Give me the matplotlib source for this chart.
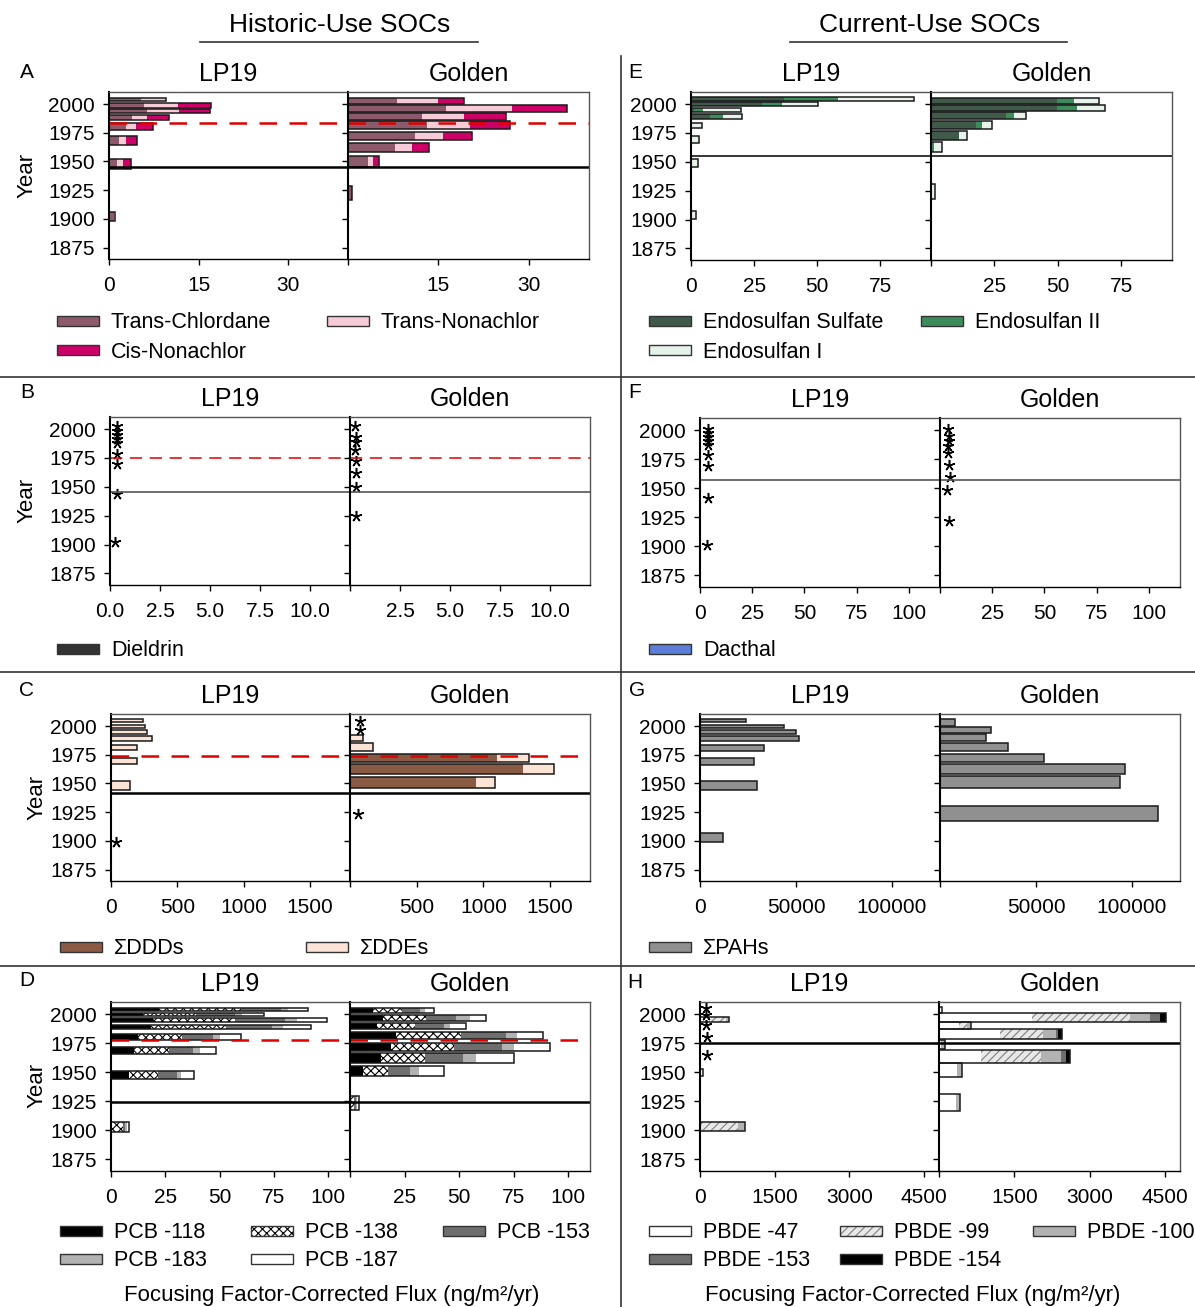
import numpy as np
import matplotlib
matplotlib.use("Agg")
import matplotlib.pyplot as plt
from matplotlib.patches import Rectangle

plt.rcParams['font.family'] = ['Liberation Sans', 'DejaVu Sans']
plt.rcParams['hatch.linewidth'] = 0.8

# ---------------- data (years are the dated slice top / bottom) ----------------
year_ticks = [2000, 1975, 1950, 1925, 1900, 1875]

# A  chlordanes
a_lp_top = [2005.2, 2000.9, 1995.7, 1990.5, 1983.5, 1972.0, 1951.7, 1906.0]
a_lp_bot = [2002.6, 1996.8, 1992.3, 1985.8, 1977.7, 1964.7, 1943.6, 1898.4]
a_lp_tc = [5.4, 5.8, 6.3, 3.9, 2.8, 1.6, 1.4, 0.8]
a_lp_tn = [4.1, 5.8, 5.4, 2.5, 1.8, 1.2, 0.9, 0.2]
a_lp_cis = [0.0, 5.5, 5.2, 3.6, 2.8, 1.9, 1.4, 0.0]
a_go_top = [2005.2, 1998.8, 1992.2, 1985.0, 1975.4, 1966.1, 1955.1, 1928.6]
a_go_bot = [2000.3, 1993.0, 1986.4, 1978.3, 1968.5, 1958.3, 1945.3, 1916.5]
a_go_tc = [8.1, 16.2, 12.2, 13.1, 11.2, 7.8, 3.4, 0.5]
a_go_tn = [6.8, 11.0, 7.1, 7.1, 4.6, 2.8, 0.8, 0.0]
a_go_cis = [4.3, 9.1, 6.9, 6.7, 4.8, 2.8, 1.0, 0.2]
a_dash, a_solid = 1983.5, 1945.3

# E  endosulfans
e_lp_top = [2006.0, 2001.5, 1996.3, 1991.4, 1984.0, 1972.8, 1952.8, 1907.6]
e_lp_bot = [2003.1, 1998.0, 1993.4, 1987.1, 1979.1, 1966.3, 1945.3, 1900.4]
e_lp_es = [37.0, 28.2, 1.0, 7.7, 0, 0, 0, 0]
e_lp_e2 = [21.2, 7.9, 3.6, 4.9, 0, 0, 0, 0]
e_lp_e1 = [30.0, 14.1, 15.2, 7.6, 4.2, 3.3, 2.9, 2.0]
e_go_top = [2005.7, 1999.1, 1992.8, 1985.4, 1977.1, 1967.1, 1931.0]
e_go_bot = [2000.0, 1994.0, 1986.8, 1978.3, 1968.8, 1958.5, 1917.6]
e_go_es = [49.8, 49.8, 29.6, 17.8, 10.9, 0, 0]
e_go_e2 = [6.6, 7.8, 3.3, 2.4, 0, 1.2, 0]
e_go_e1 = [9.9, 10.9, 4.6, 3.8, 3.2, 3.0, 1.6]
e_solid = 1954.8

# B  dieldrin (not detected -> *)
b_lp_star_yr = [2002.3, 1998.5, 1995.1, 1991.4, 1987.6, 1978.4, 1969.7, 1943.7, 1901.9]
b_lp_star_x = [0.35, 0.35, 0.35, 0.35, 0.35, 0.35, 0.35, 0.35, 0.25]
b_go_star_yr = [2002.9, 1992.8, 1989.0, 1981.8, 1972.0, 1961.9, 1949.5, 1924.4]
b_go_star_x = [0.25, 0.3, 0.3, 0.25, 0.3, 0.3, 0.3, 0.3]
b_dash, b_solid = 1974.6, 1945.7

# F  dacthal (not detected -> *)
f_lp_star_yr = [2001.4, 1997.7, 1994.2, 1990.7, 1987.0, 1978.4, 1969.0, 1941.9, 1900.8]
f_lp_star_x = [4, 4, 4, 4, 4, 4, 4, 4, 3.2]
f_go_star_yr = [2000.6, 1994.8, 1990.5, 1986.1, 1980.4, 1970.2, 1960.0, 1948.5, 1921.7]
f_go_star_x = [4, 4.5, 4.5, 4, 4, 4.5, 5, 3.5, 4.5]
f_solid = 1956.7

# C  DDTs
c_lp_top = [2005.8, 2001.2, 1996.3, 1991.0, 1983.2, 1972.5, 1951.9]
c_lp_bot = [2003.5, 1998.3, 1993.2, 1987.2, 1978.9, 1966.7, 1944.1]
c_lp_ddd = [0, 0, 0, 0, 0, 0, 0]
c_lp_dde = [238, 258, 271, 306, 193, 193, 145]
c_lp_star_yr = [1899.1]
c_lp_star_x = [40]
c_go_top = [1992.5, 1985.2, 1976.0, 1966.7, 1955.7]
c_go_bot = [1987.0, 1978.3, 1968.7, 1958.6, 1946.4]
c_go_ddd = [0, 0, 1100, 1300, 944]
c_go_dde = [100, 170, 245, 230, 140]
c_go_star_yr = [2004.1, 1996.3, 1923.8]
c_go_star_x = [75, 75, 60]
c_dash, c_solid = 1973.7, 1942.1

# G  PAHs
g_lp_top = [2005.8, 2001.2, 1996.3, 1991.3, 1983.8, 1972.5, 1951.9, 1906.4]
g_lp_bot = [2003.5, 1998.3, 1993.4, 1987.0, 1978.3, 1966.4, 1944.3, 1899.1]
g_lp_pah = [23800, 44000, 50100, 51800, 33400, 28300, 29900, 12200]
g_go_top = [2005.8, 1999.1, 1992.8, 1985.6, 1976.0, 1966.7, 1956.3, 1930.2]
g_go_bot = [2000.0, 1994.3, 1987.0, 1978.3, 1968.7, 1958.6, 1946.4, 1917.4]
g_go_pah = [7950, 26600, 23800, 35500, 54300, 96500, 93800, 113600]

# D  PCBs
d_lp_top = [2005.2, 2000.6, 1996.5, 1990.7, 1983.3, 1972.0, 1951.5, 1907.1]
d_lp_bot = [2002.9, 1998.3, 1993.1, 1987.0, 1977.7, 1966.0, 1944.0, 1899.0]
d_lp_118 = [22.0, 14.6, 19.5, 18.5, 12.6, 10.8, 8.5, 0.0]
d_lp_138 = [38.0, 24.6, 37.5, 34.3, 20.2, 16.1, 13.0, 5.4]
d_lp_153 = [18.2, 17.8, 23.0, 21.3, 14.1, 10.8, 8.8, 1.0]
d_lp_183 = [3.3, 3.5, 5.4, 4.9, 3.4, 3.1, 2.0, 1.0]
d_lp_187 = [9.0, 10.0, 14.1, 13.0, 9.7, 7.4, 5.7, 1.1]
d_go_top = [2005.2, 1999.1, 1992.2, 1985.0, 1975.5, 1966.2, 1955.8, 1929.3]
d_go_bot = [2000.6, 1994.2, 1987.0, 1979.0, 1968.2, 1958.2, 1946.6, 1917.7]
d_go_118 = [10.7, 14.9, 12.2, 21.0, 19.0, 14.0, 5.8, 0.0]
d_go_138 = [13.2, 20.1, 17.5, 29.7, 28.6, 20.2, 11.7, 1.8]
d_go_153 = [8.4, 13.4, 13.2, 20.8, 22.0, 17.5, 10.2, 0.8]
d_go_183 = [1.9, 6.4, 2.8, 4.9, 5.7, 6.1, 3.8, 0.5]
d_go_187 = [4.3, 7.6, 7.6, 11.9, 16.3, 17.2, 11.4, 1.0]
d_dash, d_solid = 1977.7, 1924.4

# H  PBDEs
h_lp_top = [1997.7, 1952.4, 1907.1]
h_lp_bot = [1993.7, 1946.6, 1899.6]
h_lp_47 = [220, 67, 0]
h_lp_99 = [300, 0, 773]
h_lp_100 = [70, 0, 134]
h_lp_153 = [0, 0, 0]
h_lp_154 = [0, 0, 0]
h_lp_star_yr = [2005.2, 1999.6, 1990.5, 1980.1, 1964.5]
h_lp_star_x = [130, 130, 130, 150, 150]
h_go_top = [2006.3, 2000.6, 1993.7, 1987.0, 1977.7, 1968.8, 1957.6, 1931.6]
h_go_bot = [2000.9, 1993.7, 1987.0, 1978.4, 1969.7, 1957.6, 1946.1, 1916.3]
h_go_47 = [67, 1848, 400, 1213, 40, 834, 360, 347]
h_go_99 = [0, 1965, 160, 867, 0, 1200, 0, 0]
h_go_100 = [0, 387, 87, 253, 80, 400, 107, 66]
h_go_153 = [0, 193, 0, 40, 0, 100, 0, 0]
h_go_154 = [0, 120, 0, 80, 0, 80, 0, 0]
h_solid = 1974.9

# ---------------- styles ----------------
st_tc = dict(color='#8C5A6A')
st_tn = dict(color='#F7CAD8')
st_cis = dict(color='#CC0066')
st_es = dict(color='#405A4A')
st_e2 = dict(color='#3D8C5C')
st_e1 = dict(color='#E6F2EA')
st_diel = dict(color='#333333')
st_dac = dict(color='#5B7FD8')
st_ddd = dict(color='#8B5A45')
st_dde = dict(color='#FBE3D5')
st_pah = dict(color='#909090')
st_118 = dict(color='#000000')
st_138 = dict(facecolor='white', edgecolor='black', hatch='xxxx', linewidth=0)
st_153 = dict(color='#6E6E6E')
st_183 = dict(color='#B2B2B2')
st_187 = dict(color='#FFFFFF')
st_b47 = dict(color='#FFFFFF')
st_b99 = dict(facecolor='#E8E8E8', edgecolor='#808080', hatch='////', linewidth=0)
st_b100 = dict(color='#B2B2B2')
st_b153 = dict(color='#6E6E6E')
st_b154 = dict(color='#000000')

W, H = 1195, 1307
fig = plt.figure(figsize=(W / 100, H / 100), dpi=100)


def add_ax(x0, y0, x1, y1):
    return fig.add_axes([x0 / W, 1 - y1 / H, (x1 - x0) / W, (y1 - y0) / H])


def setup(ax, xlim, xticks, xlabels, first, title):
    ax.set_xlim(*xlim)
    ax.set_ylim(1865, 2010.5)
    ax.set_yticks(year_ticks)
    ax.set_yticklabels([str(y) for y in year_ticks] if first else [])
    ax.set_xticks(xticks)
    ax.set_xticklabels(xlabels)
    ax.tick_params(direction='out', length=4, width=1, labelsize=15, pad=8)
    ax.tick_params(axis='y', pad=6)
    for s in ax.spines.values():
        s.set_color('#555555')
        s.set_linewidth(1)
    ax.spines['left'].set_color('black')
    ax.spines['left'].set_linewidth(1.5)
    ax.spines['bottom'].set_color('black')
    ax.set_title(title, fontsize=18, pad=8)


def stacked(ax, tops, bots, series, styles):
    tops = np.array(tops)
    bots = np.array(bots)
    mid = (tops + bots) / 2
    hgt = tops - bots
    left = np.zeros(len(tops))
    for vals, st in zip(series, styles):
        vals = np.array(vals, dtype=float)
        ax.barh(mid, vals, height=hgt, left=left, **st)
        left = left + vals
    ax.barh(mid, left, height=hgt, fill=False, edgecolor='#1a1a1a', linewidth=1.1)


def stars(ax, xs, yrs):
    ax.plot(xs, yrs, linestyle='none', marker=(5, 2, 0), markersize=8,
            markeredgewidth=1.1, color='black')


def hlines(ax, dash=None, solid=None, lw=1.8):
    if dash is not None:
        ax.axhline(dash, color='#E00000', linewidth=lw, dashes=(7, 5))
    if solid is not None:
        ax.axhline(solid, color='black', linewidth=lw)


# ---- A ----
ax1 = add_ax(109, 92, 348, 259)
ax2 = add_ax(348, 92, 589, 259)
setup(ax1, (0, 40), [0, 15, 30], ['0', '15', '30'], True, 'LP19')
setup(ax2, (0, 40), [0, 15, 30], ['', '15', '30'], False, 'Golden')
stacked(ax1, a_lp_top, a_lp_bot, [a_lp_tc, a_lp_tn, a_lp_cis], [st_tc, st_tn, st_cis])
stacked(ax2, a_go_top, a_go_bot, [a_go_tc, a_go_tn, a_go_cis], [st_tc, st_tn, st_cis])
for ax in (ax1, ax2):
    hlines(ax, a_dash, a_solid)

# ---- E ----
ax1 = add_ax(691, 92, 931, 260)
ax2 = add_ax(931, 92, 1172, 260)
setup(ax1, (0, 95), [0, 25, 50, 75], ['0', '25', '50', '75'], True, 'LP19')
setup(ax2, (0, 95), [0, 25, 50, 75], ['', '25', '50', '75'], False, 'Golden')
stacked(ax1, e_lp_top, e_lp_bot, [e_lp_es, e_lp_e2, e_lp_e1], [st_es, st_e2, st_e1])
stacked(ax2, e_go_top, e_go_bot, [e_go_es, e_go_e2, e_go_e1], [st_es, st_e2, st_e1])
for ax in (ax1, ax2):
    hlines(ax, None, e_solid, lw=1.1)

# ---- B ----
ax1 = add_ax(110, 417, 350, 585)
ax2 = add_ax(350, 417, 590, 585)
bt = [0, 2.5, 5.0, 7.5, 10.0]
setup(ax1, (0, 12), bt, ['0.0', '2.5', '5.0', '7.5', '10.0'], True, 'LP19')
setup(ax2, (0, 12), bt, ['', '2.5', '5.0', '7.5', '10.0'], False, 'Golden')
stars(ax1, b_lp_star_x, b_lp_star_yr)
stars(ax2, b_go_star_x, b_go_star_yr)
for ax in (ax1, ax2):
    ax.axhline(b_dash, color='#E00000', linewidth=1.1, dashes=(8, 5))
    ax.axhline(b_solid, color='#555555', linewidth=1.2)

# ---- F ----
ax1 = add_ax(700, 418, 940, 587)
ax2 = add_ax(940, 418, 1180, 587)
ft = [0, 25, 50, 75, 100]
setup(ax1, (0, 115), ft, ['0', '25', '50', '75', '100'], True, 'LP19')
setup(ax2, (0, 115), ft, ['', '25', '50', '75', '100'], False, 'Golden')
stars(ax1, f_lp_star_x, f_lp_star_yr)
stars(ax2, f_go_star_x, f_go_star_yr)
for ax in (ax1, ax2):
    ax.axhline(f_solid, color='#555555', linewidth=1.2)

# ---- C ----
ax1 = add_ax(111, 714, 350, 881)
ax2 = add_ax(350, 714, 590, 881)
ct = [0, 500, 1000, 1500]
setup(ax1, (0, 1800), ct, ['0', '500', '1000', '1500'], True, 'LP19')
setup(ax2, (0, 1800), ct, ['', '500', '1000', '1500'], False, 'Golden')
stacked(ax1, c_lp_top, c_lp_bot, [c_lp_ddd, c_lp_dde], [st_ddd, st_dde])
stacked(ax2, c_go_top, c_go_bot, [c_go_ddd, c_go_dde], [st_ddd, st_dde])
stars(ax1, c_lp_star_x, c_lp_star_yr)
stars(ax2, c_go_star_x, c_go_star_yr)
for ax in (ax1, ax2):
    hlines(ax, c_dash, c_solid)

# ---- G ----
ax1 = add_ax(700, 714, 940, 881)
ax2 = add_ax(940, 714, 1180, 881)
gt = [0, 50000, 100000]
setup(ax1, (0, 125000), gt, ['0', '50000', '100000'], True, 'LP19')
setup(ax2, (0, 125000), gt, ['', '50000', '100000'], False, 'Golden')
stacked(ax1, g_lp_top, g_lp_bot, [g_lp_pah], [st_pah])
stacked(ax2, g_go_top, g_go_bot, [g_go_pah], [st_pah])

# ---- D ----
ax1 = add_ax(111, 1002, 350, 1171)
ax2 = add_ax(350, 1002, 590, 1171)
dt = [0, 25, 50, 75, 100]
setup(ax1, (0, 110), dt, ['0', '25', '50', '75', '100'], True, 'LP19')
setup(ax2, (0, 110), dt, ['', '25', '50', '75', '100'], False, 'Golden')
pcb_st = [st_118, st_138, st_153, st_183, st_187]
stacked(ax1, d_lp_top, d_lp_bot, [d_lp_118, d_lp_138, d_lp_153, d_lp_183, d_lp_187], pcb_st)
stacked(ax2, d_go_top, d_go_bot, [d_go_118, d_go_138, d_go_153, d_go_183, d_go_187], pcb_st)
for ax in (ax1, ax2):
    hlines(ax, d_dash, d_solid)

# ---- H ----
ax1 = add_ax(700, 1002, 939, 1171)
ax2 = add_ax(939, 1002, 1180, 1171)
ht = [0, 1500, 3000, 4500]
setup(ax1, (0, 4800), ht, ['0', '1500', '3000', '4500'], True, 'LP19')
setup(ax2, (0, 4800), ht, ['', '1500', '3000', '4500'], False, 'Golden')
pbde_st = [st_b47, st_b99, st_b100, st_b153, st_b154]
stacked(ax1, h_lp_top, h_lp_bot, [h_lp_47, h_lp_99, h_lp_100, h_lp_153, h_lp_154], pbde_st)
stacked(ax2, h_go_top, h_go_bot, [h_go_47, h_go_99, h_go_100, h_go_153, h_go_154], pbde_st)
stars(ax1, h_lp_star_x, h_lp_star_yr)
for ax in (ax1, ax2):
    hlines(ax, None, h_solid)

# ---------------- overlay: headers, separators, legends ----------------
ov = fig.add_axes([0, 0, 1, 1], zorder=-1)
ov.set_xlim(0, W)
ov.set_ylim(H, 0)
ov.axis('off')

ov.text(340, 25, 'Historic-Use SOCs', fontsize=19, ha='center', va='center')
ov.plot([200, 478], [42, 42], color='#333333', lw=1.2)
ov.text(930, 25, 'Current-Use SOCs', fontsize=19, ha='center', va='center')
ov.plot([790, 1067], [42, 42], color='#333333', lw=1.2)

ov.plot([621, 621], [56, H], color='#333333', lw=1.2)
for yy in (377, 672, 966):
    ov.plot([0, W], [yy, yy], color='#333333', lw=1.2)

for lab, x, y in [('A', 27, 73), ('E', 635, 73), ('B', 27, 393), ('F', 635, 393),
                  ('C', 27, 691), ('G', 637, 691), ('D', 27, 981), ('H', 635, 983)]:
    ov.text(x, y, lab, fontsize=15, ha='center', va='center')

for x, y in [(27, 175), (27, 500), (37, 797), (37, 1085)]:
    ov.text(x, y, 'Year', fontsize=16, rotation=90, ha='center', va='center')

legend_items = [
    (57, 321, 'Trans-Chlordane', st_tc), (327, 321, 'Trans-Nonachlor', st_tn),
    (57, 350, 'Cis-Nonachlor', st_cis),
    (649, 321, 'Endosulfan Sulfate', st_es), (921, 321, 'Endosulfan II', st_e2),
    (649, 350, 'Endosulfan I', st_e1),
    (57, 649, 'Dieldrin', st_diel), (649, 649, 'Dacthal', st_dac),
    (60, 947, '\u03a3DDDs', st_ddd), (306, 947, '\u03a3DDEs', st_dde),
    (649, 947, '\u03a3PAHs', st_pah),
    (60, 1231, 'PCB -118', st_118), (251, 1231, 'PCB -138', st_138),
    (443, 1231, 'PCB -153', st_153), (60, 1259, 'PCB -183', st_183),
    (251, 1259, 'PCB -187', st_187),
    (649, 1231, 'PBDE -47', st_b47), (840, 1231, 'PBDE -99', st_b99),
    (1033, 1231, 'PBDE -100', st_b100), (649, 1259, 'PBDE -153', st_b153),
    (840, 1259, 'PBDE -154', st_b154),
]
for x, y, lab, st in legend_items:
    kw = dict(st)
    kw.pop('linewidth', None)
    if 'color' in kw:
        kw['facecolor'] = kw.pop('color')
    hatch = kw.pop('hatch', None)
    hatch_ec = kw.pop('edgecolor', None)
    if hatch:
        ov.add_patch(Rectangle((x, y - 5), 42, 10, facecolor=kw['facecolor'],
                               edgecolor=hatch_ec, hatch=hatch, linewidth=0))
    else:
        ov.add_patch(Rectangle((x, y - 5), 42, 10, facecolor=kw['facecolor'],
                               edgecolor='none'))
    ov.add_patch(Rectangle((x, y - 5), 42, 10, fill=False, edgecolor='#333333', linewidth=1))
    ov.text(x + 54, y + 2, lab, fontsize=15.5, ha='left', va='center')

ov.text(332, 1296, 'Focusing Factor-Corrected Flux (ng/m\u00b2/yr)', fontsize=16,
        ha='center', va='center')
ov.text(913, 1296, 'Focusing Factor-Corrected Flux (ng/m\u00b2/yr)', fontsize=16,
        ha='center', va='center')

fig.savefig('out.png', dpi=100)
